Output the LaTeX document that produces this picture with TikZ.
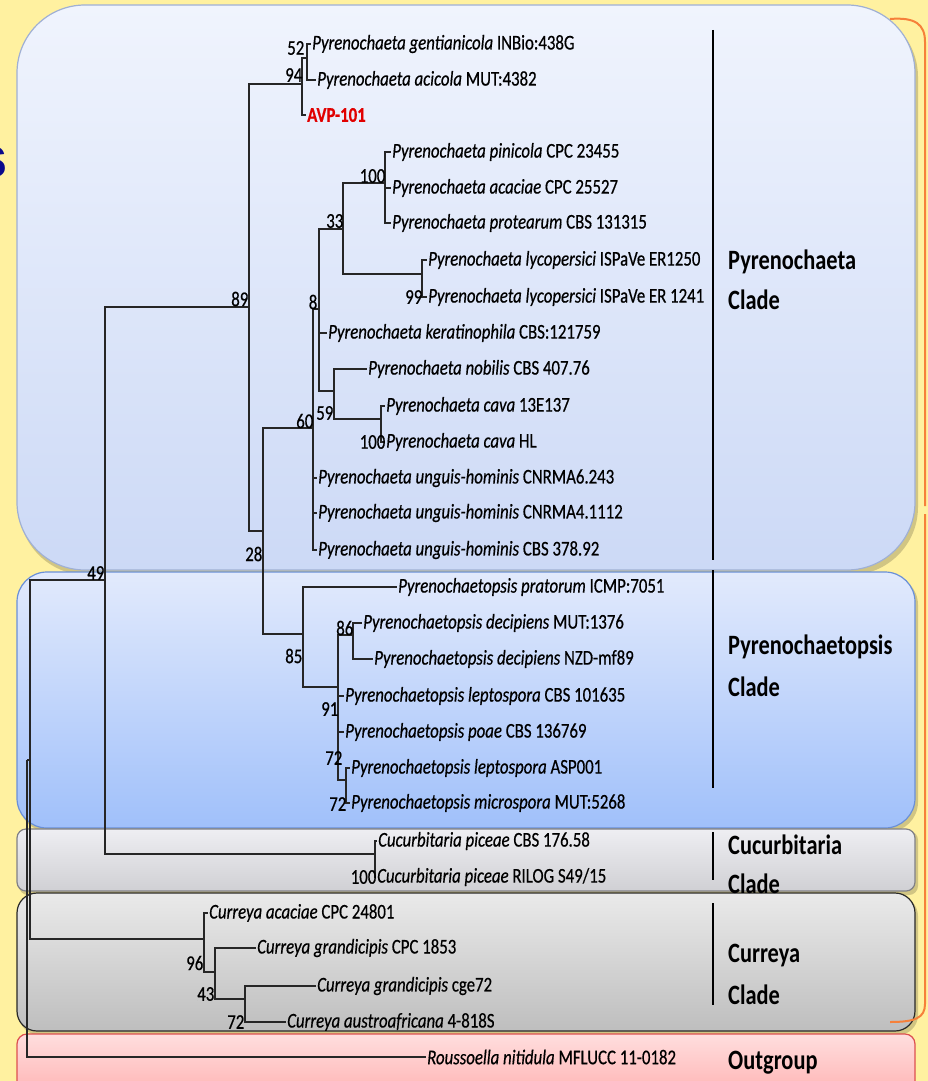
\documentclass[tikz,border=0pt]{standalone}
\usepackage{fontspec}
\setmainfont{Carlito}[FakeStretch=0.8,FakeBold=0.5]
\newfontfamily\cladefont{Carlito}[FakeStretch=0.8]
\newfontfamily\bigsans{Liberation Sans}
\definecolor{ybg}{RGB}{255,241,160}
\definecolor{bat}{RGB}{240,244,253}
\definecolor{bab}{RGB}{204,217,246}
\definecolor{bad}{RGB}{160,176,212}
\definecolor{bbt}{RGB}{226,234,252}
\definecolor{bbb}{RGB}{160,192,250}
\definecolor{bbd}{RGB}{106,144,216}
\definecolor{bct}{RGB}{238,238,242}
\definecolor{bcb}{RGB}{208,208,212}
\definecolor{bcd}{RGB}{128,128,134}
\definecolor{bdt}{RGB}{234,234,234}
\definecolor{bdb}{RGB}{190,190,190}
\definecolor{bdd}{RGB}{40,40,40}
\definecolor{bet}{RGB}{255,222,222}
\definecolor{beb}{RGB}{255,176,176}
\definecolor{bed}{RGB}{220,80,80}
\definecolor{orng}{RGB}{246,128,58}
\definecolor{sblue}{RGB}{10,10,140}
\definecolor{avpred}{RGB}{225,0,0}
\begin{document}
\begin{tikzpicture}[x=1pt,y=-1pt,
  leaf/.style={anchor=west,inner sep=1pt,font=\fontsize{21}{24}\selectfont},
  bs/.style={anchor=east,inner sep=0.5pt,font=\fontsize{21}{24}\selectfont},
  br/.style={line width=1.1pt,draw=black!85},
  cladelab/.style={anchor=west,inner sep=0pt,font=\cladefont\bfseries\fontsize{28}{32}\selectfont},
  cladebar/.style={line width=2.4pt,draw=black},
  shadowbox/.style={fill=black,opacity=0.18}]
\fill[ybg] (0,0) rectangle (928,1081);
\useasboundingbox (0,0) rectangle (928,1081);
% boxes
\fill[shadowbox,rounded corners=68] (19,9) rectangle (918,575);
\shadedraw[top color=bat,bottom color=bab,draw=bad,line width=1.2pt,rounded corners=68] (17,5) rectangle (915,570);
\fill[shadowbox,rounded corners=30] (19,575) rectangle (918,832);
\shadedraw[top color=bbt,bottom color=bbb,draw=bbd,line width=1.2pt,rounded corners=30] (17,572) rectangle (915,828);
\fill[shadowbox,rounded corners=9] (19,831) rectangle (918,895);
\shadedraw[top color=bct,bottom color=bcb,draw=bcd,line width=1.2pt,rounded corners=9] (17,829) rectangle (915,891);
\fill[shadowbox,rounded corners=20] (19,896) rectangle (918,1035);
\shadedraw[top color=bdt,bottom color=bdb,draw=bdd,line width=1.2pt,rounded corners=20] (17,893) rectangle (915,1031);
\shadedraw[top color=bet,bottom color=beb,draw=bed,line width=1.2pt,rounded corners=10] (17,1034) rectangle (915,1100);
% orange brace
\draw[orng,line width=2pt] (890,19) .. controls (915,17) and (925,24) .. (925,42) -- (925,506);
\draw[orng,line width=2pt] (925,514) -- (925,1004) .. controls (925,1018) and (915,1022) .. (890,1022);
% cut title letter
\node[anchor=east,inner sep=0pt,text=sblue,font=\bigsans\bfseries\fontsize{58}{60}\selectfont] (sfrag) at (8,162) {s};
% leaves
\node[leaf] (gent) at (311,44) {\textit{Pyrenochaeta gentianicola} INBio:438G};
\node[leaf] (acic) at (316,80) {\textit{Pyrenochaeta acicola} MUT:4382};
\node[leaf,text=avpred,font=\bfseries\fontsize{21}{24}\selectfont] (avp) at (306,115) {AVP-101};
\node[leaf] (pin) at (391,152) {\textit{Pyrenochaeta pinicola} CPC 23455};
\node[leaf] (acac) at (391,188) {\textit{Pyrenochaeta acaciae} CPC 25527};
\node[leaf] (prot) at (391,223) {\textit{Pyrenochaeta protearum} CBS 131315};
\node[leaf] (er1) at (427,260) {\textit{Pyrenochaeta lycopersici} ISPaVe ER1250};
\node[leaf] (er2) at (427,297) {\textit{Pyrenochaeta lycopersici} ISPaVe ER 1241};
\node[leaf] (kera) at (327,333) {\textit{Pyrenochaeta keratinophila} CBS:121759};
\node[leaf] (nob) at (367,369) {\textit{Pyrenochaeta nobilis} CBS 407.76};
\node[leaf] (cava1) at (385,406) {\textit{Pyrenochaeta cava} 13E137};
\node[leaf] (cava2) at (385,442) {\textit{Pyrenochaeta cava} HL};
\node[leaf] (ung1) at (317,478) {\textit{Pyrenochaeta unguis-hominis} CNRMA6.243};
\node[leaf] (ung2) at (317,513) {\textit{Pyrenochaeta unguis-hominis} CNRMA4.1112};
\node[leaf] (ung3) at (317,550) {\textit{Pyrenochaeta unguis-hominis} CBS 378.92};
\node[leaf] (prat) at (397,587) {\textit{Pyrenochaetopsis pratorum} ICMP:7051};
\node[leaf] (dec1) at (362,623) {\textit{Pyrenochaetopsis decipiens} MUT:1376};
\node[leaf] (dec2) at (373,659) {\textit{Pyrenochaetopsis decipiens} NZD-mf89};
\node[leaf] (lep1) at (344,696) {\textit{Pyrenochaetopsis leptospora} CBS 101635};
\node[leaf] (poae) at (344,732) {\textit{Pyrenochaetopsis poae} CBS 136769};
\node[leaf] (lep2) at (350,768) {\textit{Pyrenochaetopsis leptospora} ASP001};
\node[leaf] (micro) at (350,803) {\textit{Pyrenochaetopsis microspora} MUT:5268};
\node[leaf] (pic1) at (377,841) {\textit{Cucurbitaria piceae} CBS 176.58};
\node[leaf] (pic2) at (376,877) {\textit{Cucurbitaria piceae} RILOG S49/15};
\node[leaf] (cac) at (208,913) {\textit{Curreya acaciae} CPC 24801};
\node[leaf] (cg1) at (256,948) {\textit{Curreya grandicipis} CPC 1853};
\node[leaf] (cg2) at (316,986) {\textit{Curreya grandicipis} cge72};
\node[leaf] (aus) at (286,1022) {\textit{Curreya austroafricana} 4-818S};
\node[leaf] (rous) at (426,1057) {\textit{Roussoella nitidula} MFLUCC 11-0182};
% internal nodes
\coordinate (R) at (27,760);
\coordinate (A) at (30,760);
\coordinate (B) at (105,580);
\coordinate (N89) at (249,307);
\coordinate (N94) at (302,84);
\coordinate (N52) at (307,58);
\coordinate (N28) at (263,531);
\coordinate (N60) at (313,428);
\coordinate (N8) at (319,309);
\coordinate (N33) at (343,229);
\coordinate (Na) at (385,183);
\coordinate (N99) at (422,274);
\coordinate (N59) at (334,391);
\coordinate (Nb) at (381,419);
\coordinate (N85) at (303,634);
\coordinate (N91) at (338,687);
\coordinate (N86) at (353,635);
\coordinate (N72) at (346,780);
\coordinate (Cuc) at (375,854);
\coordinate (Cur) at (204,939);
\coordinate (N43) at (215,972);
\coordinate (N72c) at (245,999);
% branches
\draw[br] (R) -- (A);
\draw[br] (R) |- (rous.west);
\draw[br] (A) |- (B);
\draw[br] (A) |- (Cur);
\draw[br] (B) |- (Cuc);
\draw[br,line width=2pt] (B) |- (N89);
\draw[br] (N89) |- (N94);
\draw[br] (N89) |- (N28);
\draw[br] (N94) |- (N52);
\draw[br] (N94) |- (avp.west);
\draw[br] (N52) |- (gent.west);
\draw[br] (N52) |- (acic.west);
\draw[br] (N28) |- (N60);
\draw[br] (N28) |- (N85);
\draw[br] (N60) |- (N8);
\draw[br] (N60) |- (ung1.west);
\draw[br] (N60) |- (ung2.west);
\draw[br] (N60) |- (ung3.west);
\draw[br] (N8) |- (N33);
\draw[br] (N8) |- (kera.west);
\draw[br] (N8) |- (N59);
\draw[br] (N33) |- (Na);
\draw[br] (N33) |- (N99);
\draw[br] (Na) |- (pin.west);
\draw[br] (Na) |- (acac.west);
\draw[br] (Na) |- (prot.west);
\draw[br] (N99) |- (er1.west);
\draw[br] (N99) |- (er2.west);
\draw[br] (N59) |- (nob.west);
\draw[br] (N59) |- (Nb);
\draw[br] (Nb) |- (cava1.west);
\draw[br] (Nb) |- (cava2.west);
\draw[br] (N85) |- (prat.west);
\draw[br] (N85) |- (N91);
\draw[br] (N91) |- (N86);
\draw[br] (N91) |- (lep1.west);
\draw[br] (N91) |- (poae.west);
\draw[br] (N91) |- (N72);
\draw[br] (N86) |- (dec1.west);
\draw[br] (N86) |- (dec2.west);
\draw[br] (N72) |- (lep2.west);
\draw[br] (N72) |- (micro.west);
\draw[br] (Cuc) |- (pic1.west);
\draw[br] (Cuc) |- (pic2.west);
\draw[br] (Cur) |- (cac.west);
\draw[br] (Cur) |- (N43);
\draw[br] (N43) |- (cg1.west);
\draw[br] (N43) |- (N72c);
\draw[br] (N72c) |- (cg2.west);
\draw[br] (N72c) |- (aus.west);
% bootstrap values
\node[bs] (b52) at (305,48) {52};
\node[bs] (b94) at (303,75) {94};
\node[bs] (b100a) at (386,176) {100};
\node[bs] (b33) at (344,221) {33};
\node[bs] (b99) at (423,297) {99};
\node[bs] (b89) at (249,299) {89};
\node[bs] (b8) at (318,302) {8};
\node[bs] (b60) at (314,421) {60};
\node[bs] (b59) at (334,413) {59};
\node[bs] (b100b) at (386,442) {100};
\node[bs] (b28) at (263,554) {28};
\node[bs] (b49) at (105,573) {49};
\node[bs] (b85) at (303,656) {85};
\node[bs] (b86) at (354,628) {86};
\node[bs] (b91) at (339,709) {91};
\node[bs] (b72a) at (343,758) {72};
\node[bs] (b72b) at (347,804) {72};
\node[bs] (b100c) at (377,877) {100};
\node[bs] (b96) at (204,963) {96};
\node[bs] (b43) at (215,994) {43};
\node[bs] (b72c) at (245,1022) {72};
% clade bars
\coordinate (c1t) at (713,30); \coordinate (c1b) at (713,560);
\coordinate (c2t) at (713,570); \coordinate (c2b) at (713,788);
\coordinate (c3t) at (713,832); \coordinate (c3b) at (713,880);
\coordinate (c4t) at (713,903); \coordinate (c4b) at (713,1005);
\draw[cladebar] (c1t) -- (c1b);
\draw[cladebar] (c2t) -- (c2b);
\draw[cladebar] (c3t) -- (c3b);
\draw[cladebar] (c4t) -- (c4b);
% clade labels
\node[cladelab] (l1a) at (728,262) {Pyrenochaeta};
\node[cladelab] (l1b) at (728,300) {Clade};
\node[cladelab] (l2a) at (728,647) {Pyrenochaetopsis};
\node[cladelab] (l2b) at (728,687) {Clade};
\node[cladelab] (l3a) at (728,845) {Cucurbitaria};
\node[cladelab] (l3b) at (728,884) {Clade};
\node[cladelab] (l4a) at (728,956) {Curreya};
\node[cladelab] (l4b) at (728,995) {Clade};
\node[cladelab] (l5) at (728,1063) {Outgroup};
\end{tikzpicture}
\end{document}
